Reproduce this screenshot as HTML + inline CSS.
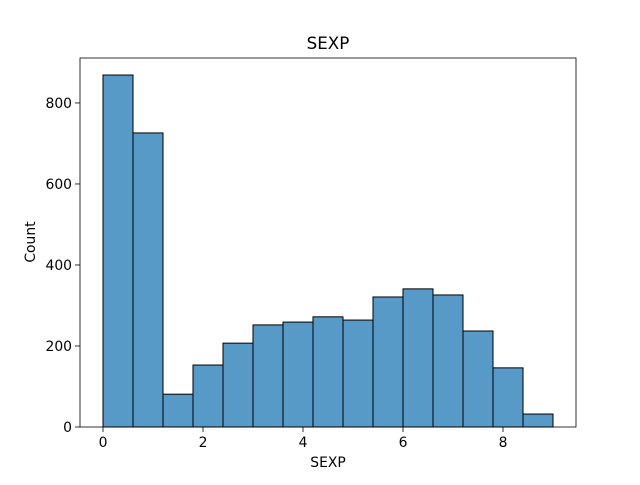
<!DOCTYPE html>
<html><head><meta charset="utf-8"><style>
body{margin:0;background:#fff;}
svg text{font-family:"DejaVu Sans","Liberation Sans",sans-serif;fill:#000;}
</style></head><body>
<svg id="chart" width="640" height="480">
<rect width="640" height="480" fill="#fff"/>
<g id="bars"></g>
<g id="xticks"></g>
<g id="yticks"></g>
<rect x="80" y="58" width="496" height="369" fill="none" stroke="#000" stroke-width="0.8"/>
<text x="328" y="49" text-anchor="middle" font-size="16.7">SEXP</text>
<text x="328" y="467" text-anchor="middle" font-size="13.9">SEXP</text>
<text x="35" y="242" text-anchor="middle" font-size="13.9" transform="rotate(-90 35 242)">Count</text>
</svg>
<script>
const binStart = 0;
const binWidth = 0.6;
const counts = [869, 726, 81, 153, 207, 252, 259, 272, 264, 321, 341, 326, 237, 146, 32];
const xTicks = [0, 2, 4, 6, 8];
const yTicks = [0, 200, 400, 600, 800];
const ns = "http://www.w3.org/2000/svg";
const L = 80, R = 576, T = 58, B = 427;
const xMin = -0.46, xMax = 9.46, yMin = 0, yMax = 911;
const xs = v => L + (v - xMin) / (xMax - xMin) * (R - L);
const ys = v => B - (v - yMin) / (yMax - yMin) * (B - T);
const bars = document.getElementById('bars');
counts.forEach((c, i) => {
  const r = document.createElementNS(ns, 'rect');
  const x0 = xs(binStart + i * binWidth), x1 = xs(binStart + (i + 1) * binWidth);
  r.setAttribute('x', x0); r.setAttribute('width', x1 - x0);
  r.setAttribute('y', ys(c)); r.setAttribute('height', ys(0) - ys(c));
  r.setAttribute('fill', '#5799c7'); r.setAttribute('stroke', '#000'); r.setAttribute('stroke-width', '1');
  
  
  bars.appendChild(r);
});
const xg = document.getElementById('xticks');
xTicks.forEach(t => {
  const x = xs(t);
  const l = document.createElementNS(ns, 'line');
  l.setAttribute('x1', x); l.setAttribute('x2', x); l.setAttribute('y1', B); l.setAttribute('y2', B + 5);
  l.setAttribute('stroke', '#000'); l.setAttribute('stroke-width', '0.8');
  
  
  xg.appendChild(l);
  const tx = document.createElementNS(ns, 'text');
  tx.setAttribute('x', x); tx.setAttribute('y', B + 20); tx.setAttribute('text-anchor', 'middle'); tx.setAttribute('font-size', '13.9');
  tx.textContent = t;
  
  
  xg.appendChild(tx);
});
const yg = document.getElementById('yticks');
yTicks.forEach(t => {
  const y = ys(t);
  const l = document.createElementNS(ns, 'line');
  l.setAttribute('x1', L - 5); l.setAttribute('x2', L); l.setAttribute('y1', y); l.setAttribute('y2', y);
  l.setAttribute('stroke', '#000'); l.setAttribute('stroke-width', '0.8');
  
  
  yg.appendChild(l);
  const tx = document.createElementNS(ns, 'text');
  tx.setAttribute('x', L - 8); tx.setAttribute('y', y + 5); tx.setAttribute('text-anchor', 'end'); tx.setAttribute('font-size', '13.9');
  tx.textContent = t;
  
  
  yg.appendChild(tx);
});
</script>
</body></html>
